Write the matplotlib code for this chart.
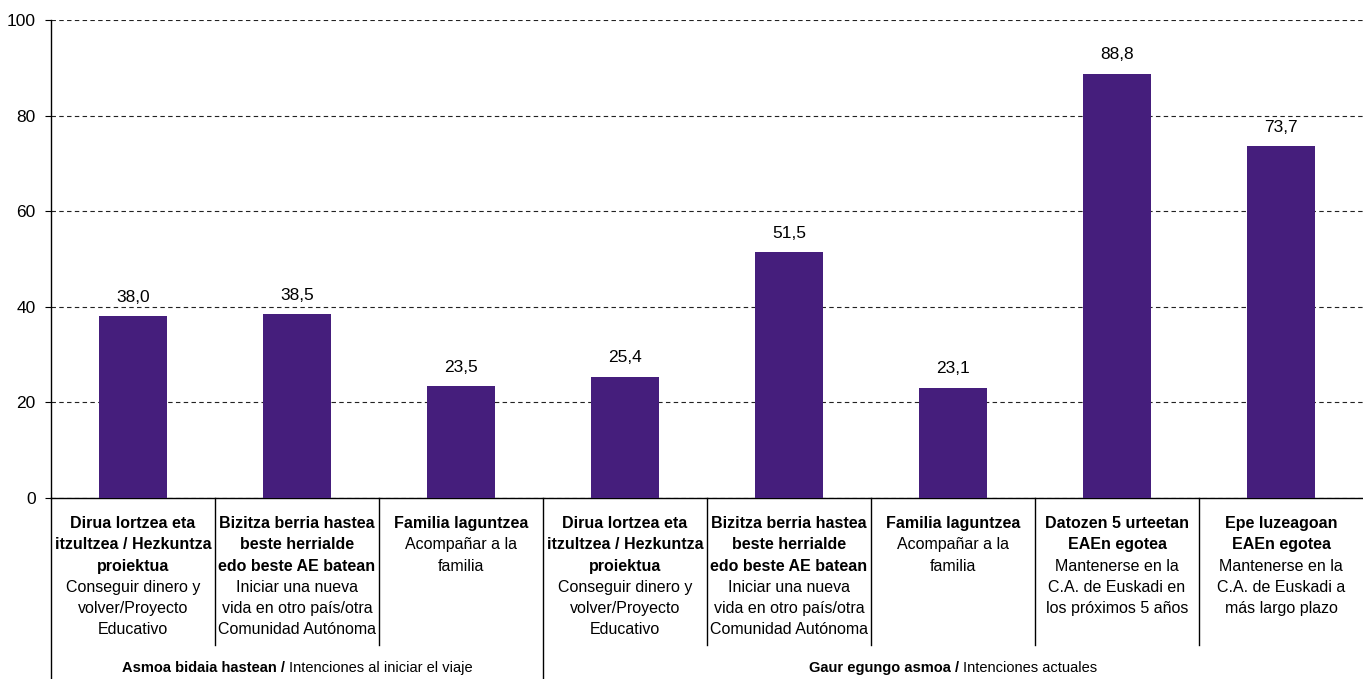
import matplotlib.pyplot as plt
import matplotlib.transforms as mtransforms

plt.rcParams['font.family'] = ['Liberation Sans', 'DejaVu Sans']

# --- data ---
values = [38.0, 38.5, 23.5, 25.4, 51.5, 23.1, 88.8, 73.7]
bold_labels = [
    "Dirua lortzea eta\nitzultzea / Hezkuntza\nproiektua",
    "Bizitza berria hastea\nbeste herrialde\nedo beste AE batean",
    "Familia laguntzea",
    "Dirua lortzea eta\nitzultzea / Hezkuntza\nproiektua",
    "Bizitza berria hastea\nbeste herrialde\nedo beste AE batean",
    "Familia laguntzea",
    "Datozen 5 urteetan\nEAEn egotea",
    "Epe luzeagoan\nEAEn egotea",
]
regular_labels = [
    "Conseguir dinero y\nvolver/Proyecto\nEducativo",
    "Iniciar una nueva\nvida en otro país/otra\nComunidad Autónoma",
    "Acompañar a la\nfamilia",
    "Conseguir dinero y\nvolver/Proyecto\nEducativo",
    "Iniciar una nueva\nvida en otro país/otra\nComunidad Autónoma",
    "Acompañar a la\nfamilia",
    "Mantenerse en la\nC.A. de Euskadi en\nlos próximos 5 años",
    "Mantenerse en la\nC.A. de Euskadi a\nmás largo plazo",
]
group_bold = ["Asmoa bidaia hastean / ", "Gaur egungo asmoa / "]
group_regular = ["Intenciones al iniciar el viaje", "Intenciones actuales"]
group_sizes = [3, 5]

bar_color = "#451E7C"

fig = plt.figure(figsize=(13.63, 6.79), dpi=100)
ax = fig.add_axes([51 / 1363, 1 - 498 / 679, 1 - 51 / 1363, 478 / 679])

x = list(range(len(values)))
ax.bar(x, values, width=0.41, color=bar_color, zorder=3)

ax.set_xlim(-0.5, len(values) - 0.5)
ax.set_ylim(0, 100)
ax.set_yticks([0, 20, 40, 60, 80, 100])
ax.tick_params(axis="y", labelsize=12.5, length=4, width=0.8, direction="out", pad=7)
ax.set_xticks([])
ax.yaxis.grid(True, linestyle=(0, (4, 3)), color="#222222", linewidth=0.8, zorder=0)
ax.set_axisbelow(True)
for s in ["top", "right"]:
    ax.spines[s].set_visible(False)
ax.spines["left"].set_linewidth(1.0)
ax.spines["bottom"].set_linewidth(1.0)

# value labels
for xi, v in zip(x, values):
    ax.annotate(f"{v:.1f}".replace(".", ","), (xi, v), xytext=(0, 8),
                textcoords="offset points", ha="center", va="bottom", fontsize=12.5)

# category labels
trans = mtransforms.blended_transform_factory(ax.transData, ax.transAxes)
line_step = 15.3
for xi, b, r in zip(x, bold_labels, regular_labels):
    lines = [(t, "bold") for t in b.split("\n")] + [(t, "normal") for t in r.split("\n")]
    for i, (t, w) in enumerate(lines):
        ax.annotate(t, (xi, 0), xycoords=trans, xytext=(0, -18.5 - i * line_step),
                    textcoords="offset points", ha="center", va="center",
                    fontsize=11.5, fontweight=w, annotation_clip=False)

# separators
short_bottom = -(645 - 498) / 478
long_bottom = -(679 - 498) / 478
starts = [0]
for g in group_sizes[:-1]:
    starts.append(starts[-1] + g)
for k in range(1, len(values)):
    bottom = long_bottom if k in starts else short_bottom
    ax.plot([k - 0.5, k - 0.5], [0, bottom], transform=trans, color="black",
            linewidth=1.0, clip_on=False)
ax.plot([-0.5, -0.5], [0, long_bottom], transform=trans, color="black",
        linewidth=1.0, clip_on=False)

# group labels (bold + regular on one line)
fig.canvas.draw()
renderer = fig.canvas.get_renderer()
gy = -(668 - 498) * 72 / 100
for s, g, gb, gr in zip(starts, group_sizes, group_bold, group_regular):
    center = s - 0.5 + g / 2
    tb = ax.annotate(gb, (center, 0), xycoords=trans, xytext=(0, gy),
                     textcoords="offset points", ha="left", va="center",
                     fontsize=10.5, fontweight="bold", annotation_clip=False)
    tr = ax.annotate(gr, (center, 0), xycoords=trans, xytext=(0, gy),
                     textcoords="offset points", ha="left", va="center",
                     fontsize=10.5, annotation_clip=False)
    wb = tb.get_window_extent(renderer).width * 72 / fig.dpi
    wr = tr.get_window_extent(renderer).width * 72 / fig.dpi
    start = -(wb + wr) / 2
    tb.set_position((start, gy))
    tr.set_position((start + wb, gy))

plt.savefig("out.png", dpi=100)
